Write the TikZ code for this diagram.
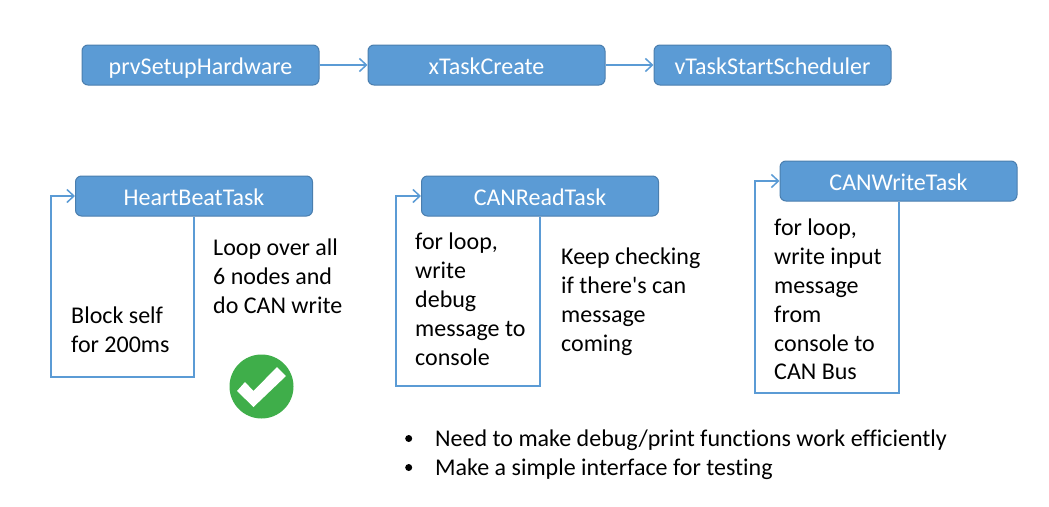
\documentclass[tikz,border=0pt]{standalone}
\usepackage{fontspec}
\setmainfont{Carlito}
\newfontfamily\plainface{Carlito}[Ligatures=NoCommon]
\usetikzlibrary{arrows.meta}
\definecolor{boxfill}{HTML}{5B9BD5}
\definecolor{boxline}{HTML}{4A7EAE}
\definecolor{linkline}{HTML}{5B9BD5}
\definecolor{okgreen}{HTML}{3FAE4A}
\tikzset{
  taskbox/.style={draw=boxline,line width=1pt,fill=boxfill,rounded corners=6pt,minimum width=237pt,minimum height=40pt,inner sep=0pt},
  tasklabel/.style={anchor=base,inner sep=0pt,text=white,font=\plainface\fontsize{24pt}{28pt}\selectfont},
  link/.style={draw=linkline,line width=1.8pt,-{Straight Barb[length=7pt,width=13pt,line width=1.5pt]}},
  looppath/.style={draw=linkline,line width=2pt,line join=miter,-{Straight Barb[length=7pt,width=13pt,line width=1.5pt]}},
  body/.style={anchor=base west,inner sep=0pt,align=left,font=\plainface\fontsize{24pt}{29pt}\selectfont,text=black},
  bulletdot/.style={circle,fill=black,inner sep=0pt,minimum size=7pt}
}
\begin{document}
\begin{tikzpicture}[x=1pt,y=-1pt]
\useasboundingbox (0,0) rectangle (1049,506);
\node[taskbox] (hw) at (200.5,65) {};
\node[tasklabel] at (200.5,74) {prvSetupHardware};
\node[taskbox] (tc) at (486.5,65) {};
\node[tasklabel] at (486.5,74) {xTaskCreate};
\node[taskbox] (ss) at (772.5,65) {};
\node[tasklabel] at (772.5,74) {vTaskStartScheduler};
\draw[link] (hw) -- (tc);
\draw[link] (tc) -- (ss);
\node[taskbox] (hb) at (194,196) {};
\node[tasklabel] at (194,205) {HeartBeatTask};
\node[taskbox] (cr) at (540,196) {};
\node[tasklabel] at (540,205) {CANReadTask};
\node[taskbox] (cw) at (898.5,181) {};
\node[tasklabel] at (898.5,190) {CANWriteTask};
\coordinate (hb1) at (194,377);
\coordinate (hb2) at (51,377);
\coordinate (cr1) at (540,386);
\coordinate (cr2) at (396,386);
\coordinate (cw1) at (898.5,393);
\coordinate (cw2) at (755,393);
\draw[looppath] (hb.south) -- (hb1) -- (hb2) |- (hb.west);
\draw[looppath] (cr.south) -- (cr1) -- (cr2) |- (cr.west);
\draw[looppath] (cw.south) -- (cw1) -- (cw2) |- (cw.west);
\node[body] (t1) at (71,323) {Block self};
\node[body] (t2) at (71,352) {for 200ms};
\node[body] (t3) at (213,255) {Loop over all};
\node[body] (t4) at (213,284) {6 nodes and};
\node[body] (t5) at (213,313) {do CAN write};
\node[body] (t6) at (415,249) {for loop,};
\node[body] (t7) at (415,278) {write};
\node[body] (t8) at (415,307) {debug};
\node[body] (t9) at (415,336) {message to};
\node[body] (t10) at (415,365) {console};
\node[body] (t11) at (561,264) {Keep checking};
\node[body] (t12) at (561,293) {if there's can};
\node[body] (t13) at (561,322) {message};
\node[body] (t14) at (561,351) {coming};
\node[body] (t15) at (774,235) {for loop,};
\node[body] (t16) at (774,264) {write input};
\node[body] (t17) at (774,293) {message};
\node[body] (t18) at (774,322) {from};
\node[body] (t19) at (774,351) {console to};
\node[body] (t20) at (774,379) {CAN Bus};
\node[bulletdot] (b1) at (408.7,438.5) {};
\node[bulletdot] (b2) at (408.7,467.5) {};
\node[body] (l1) at (435,446) {Need to make debug/print functions work efficiently};
\node[body] (l2) at (435,475) {Make a simple interface for testing};
\fill[okgreen] (261.5,386.5) circle (32pt);
\fill[white] (237,391) -- (245,382) -- (253.5,391) -- (277,367) -- (286,376) -- (253.5,407) -- cycle;
\end{tikzpicture}
\end{document}
